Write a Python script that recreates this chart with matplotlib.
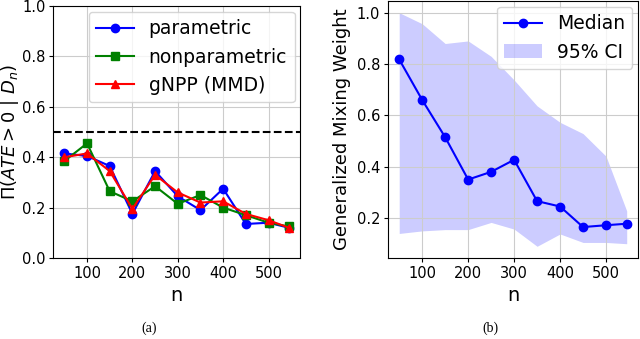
import numpy as np
import matplotlib.pyplot as plt

n = [50, 100, 150, 200, 250, 300, 350, 400, 450, 500, 545]
xticks = [100, 200, 300, 400, 500]

# panel (a): posterior probability that ATE > 0
parametric = [0.415, 0.405, 0.365, 0.175, 0.345, 0.245, 0.19, 0.275, 0.135, 0.14, 0.12]
nonparametric = [0.385, 0.455, 0.265, 0.225, 0.285, 0.215, 0.25, 0.20, 0.17, 0.14, 0.125]
gnpp = [0.40, 0.415, 0.345, 0.195, 0.33, 0.26, 0.22, 0.225, 0.175, 0.15, 0.12]

# panel (b): mixing weight median and 95% interval
median = [0.818, 0.66, 0.515, 0.35, 0.38, 0.427, 0.266, 0.245, 0.165, 0.172, 0.178]
ci_upper = [1.0, 0.957, 0.88, 0.89, 0.83, 0.738, 0.637, 0.573, 0.529, 0.441, 0.228]
ci_lower = [0.14, 0.15, 0.155, 0.155, 0.183, 0.157, 0.09, 0.138, 0.105, 0.105, 0.10]

fig = plt.figure(figsize=[6.4, 3.39], dpi=100)
ax1 = fig.add_axes([0.083, 0.239, 0.386, 0.743])
ax2 = fig.add_axes([0.606, 0.239, 0.391, 0.758])

lw, ms = 1.5, 6
ax1.plot(n, parametric, "-o", color="blue", lw=lw, ms=ms, label="parametric")
ax1.plot(n, nonparametric, "-s", color="green", lw=lw, ms=ms, label="nonparametric")
ax1.plot(n, gnpp, "-^", color="red", lw=lw, ms=ms, label="gNPP (MMD)")
ax1.axhline(0.5, color="black", ls="--", lw=1.5)
ax1.set_ylim(0, 1)
ax1.set_xticks(xticks)
ax1.set_yticks([0.0, 0.2, 0.4, 0.6, 0.8, 1.0])
ax1.grid(True, color="#cccccc")
ax1.set_xlabel("n", fontsize=14)
ax1.set_ylabel(r"$\Pi(ATE > 0\ |\ D_n)$", fontsize=13, labelpad=1)
ax1.legend(loc="upper right", fontsize=13.5, borderaxespad=0.3)

med_line, = ax2.plot(n, median, "-o", color="blue", lw=lw, ms=ms, label="Median")
ci_fill = ax2.fill_between(n, ci_lower, ci_upper, color="blue", alpha=0.2, lw=0,
                           label="95% CI")
ax2.set_xticks(xticks)
ax2.set_yticks([0.2, 0.4, 0.6, 0.8, 1.0])
ax2.grid(True, color="#cccccc")
ax2.set_xlabel("n", fontsize=14)
ax2.set_ylabel("Generalized Mixing Weight", fontsize=13)
ax2.legend(handles=[med_line, ci_fill], loc="upper right", fontsize=13.5,
           borderaxespad=0.3)

for ax in (ax1, ax2):
    ax.tick_params(labelsize=10.5, length=3, pad=2.5)

fig.text(0.233, 0.02, "(a)", family="Liberation Serif", fontsize=10, ha="center")
fig.text(0.766, 0.02, "(b)", family="Liberation Serif", fontsize=10, ha="center")

fig.savefig("out.png", dpi=100)
